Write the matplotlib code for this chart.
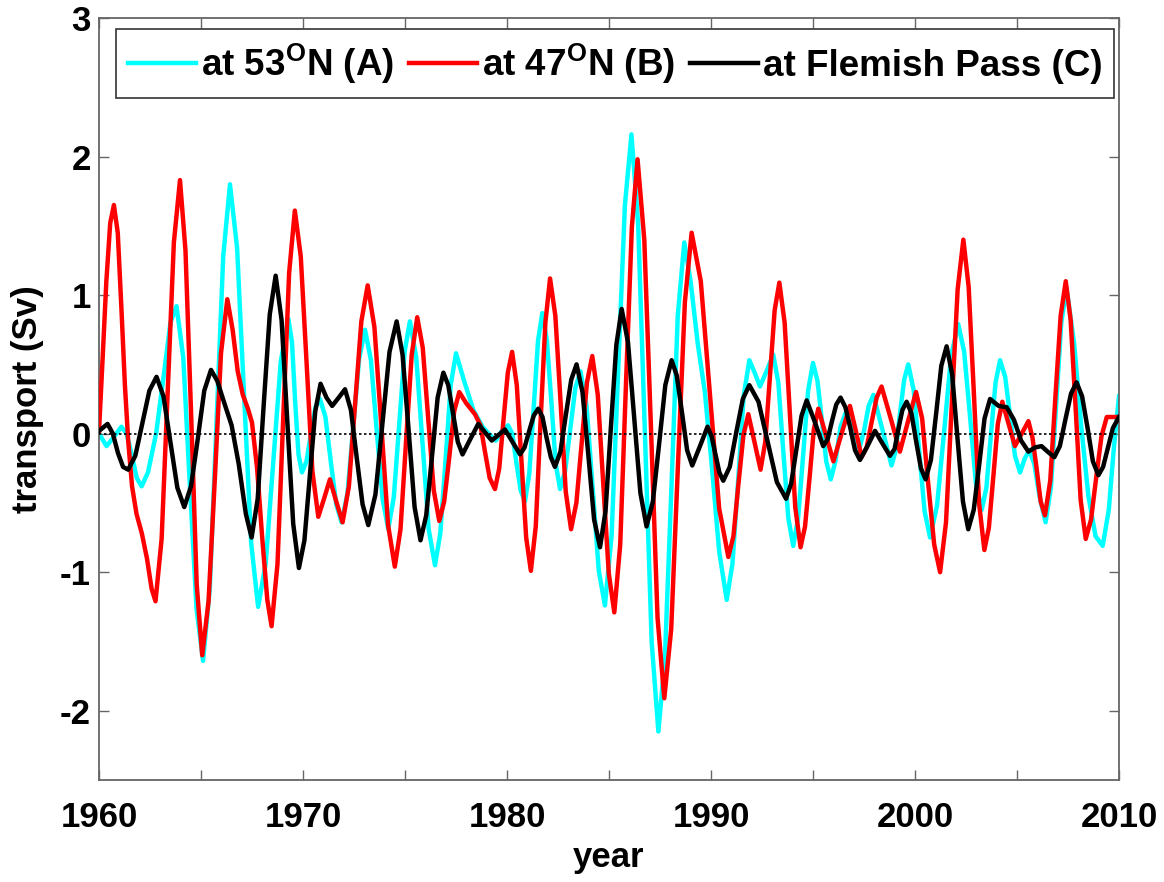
import matplotlib
matplotlib.use("Agg")
import matplotlib.pyplot as plt
from matplotlib.ticker import MultipleLocator

plt.rcParams['font.family'] = ['Liberation Sans', 'DejaVu Sans']
plt.rcParams['font.weight'] = 'bold'
plt.rcParams['mathtext.fontset'] = 'custom'
plt.rcParams['mathtext.rm'] = 'Liberation Sans:bold'
plt.rcParams['mathtext.bf'] = 'Liberation Sans:bold'
plt.rcParams['axes.unicode_minus'] = False

# ---------------- data ----------------
# Transport at 53N (A) - cyan
years_a = [1960.00, 1960.37, 1960.75, 1961.10, 1961.35, 1961.60, 1961.85, 1962.09,
           1962.40, 1962.80, 1963.20, 1963.50, 1963.80,
           1964.13, 1964.45, 1964.78, 1965.10,
           1965.43, 1965.76, 1966.09, 1966.42,
           1966.77, 1967.11, 1967.46, 1967.80,
           1968.17, 1968.54, 1968.91, 1969.28,
           1969.46, 1969.62, 1969.78, 1969.95,
           1970.17, 1970.39, 1970.61, 1970.83,
           1971.10, 1971.36, 1971.63, 1971.89,
           1972.18, 1972.47, 1972.75, 1973.04,
           1973.33, 1973.61, 1973.90, 1974.18,
           1974.45, 1974.71, 1974.98, 1975.24,
           1975.55, 1975.86, 1976.16, 1976.47,
           1976.73, 1976.99, 1977.24, 1977.50,
           1977.90, 1978.35, 1978.80, 1979.10, 1979.45, 1979.75, 1980.05,
           1980.26, 1980.47, 1980.67, 1980.88,
           1981.09, 1981.31, 1981.52, 1981.73,
           1981.95, 1982.17, 1982.38, 1982.60,
           1982.85, 1983.10, 1983.35, 1983.60,
           1983.90, 1984.20, 1984.50, 1984.80,
           1985.13, 1985.45, 1985.78, 1986.10,
           1986.43, 1986.76, 1987.09, 1987.42,
           1987.74, 1988.06, 1988.37, 1988.69,
           1989.00, 1989.35, 1989.70, 1990.05, 1990.40, 1990.77,
           1991.05, 1991.33, 1991.60, 1991.88,
           1992.14, 1992.40, 1992.72, 1993.05,
           1993.30, 1993.54, 1993.79, 1994.03,
           1994.27, 1994.52, 1994.76, 1995.00,
           1995.22, 1995.44, 1995.65, 1995.87,
           1996.10, 1996.35, 1996.60, 1996.92, 1997.25,
           1997.50, 1997.73, 1997.96,
           1998.40, 1998.85,
           1999.06, 1999.26, 1999.47, 1999.67,
           1999.94, 2000.20, 2000.47, 2000.74,
           2001.08, 2001.43, 2001.77, 2002.12,
           2002.41, 2002.70, 2002.98, 2003.27,
           2003.50, 2003.72, 2003.95, 2004.17,
           2004.42, 2004.66, 2004.90, 2005.15,
           2005.38, 2005.60, 2005.85, 2006.10, 2006.40,
           2006.66, 2006.92, 2007.17, 2007.43,
           2007.80, 2008.15, 2008.50, 2008.85, 2009.20, 2009.50, 2009.75, 2010.00]
vals_a = [0.00, -0.09, -0.02, 0.05, 0.00, -0.15, -0.32, -0.38,
          -0.28, 0.00, 0.45, 0.80, 0.92,
          0.55, -0.36, -1.26, -1.64,
          -1.12, 0.08, 1.28, 1.80,
          1.34, 0.28, -0.79, -1.25,
          -0.94, -0.21, 0.52, 0.83,
          0.66, 0.22, -0.15, -0.28,
          -0.20, 0.00, 0.19, 0.25,
          0.12, -0.20, -0.51, -0.64,
          -0.43, 0.06, 0.54, 0.75,
          0.53, 0.03, -0.47, -0.69,
          -0.46, 0.06, 0.59, 0.81,
          0.55, -0.07, -0.69, -0.95,
          -0.72, -0.19, 0.35, 0.58,
          0.38, 0.17, 0.05, 0.00, -0.05, 0.02, 0.06,
          0.00, -0.22, -0.41, -0.49,
          -0.29, 0.19, 0.67, 0.87,
          0.68, 0.24, -0.21, -0.40,
          -0.27, 0.03, 0.33, 0.45,
          0.20, -0.40, -0.99, -1.24,
          -0.73, 0.46, 1.65, 2.16,
          1.51, 0.01, -1.50, -2.15,
          -1.62, -0.39, 0.85, 1.38,
          1.10, 0.65, 0.30, -0.25, -0.85, -1.20,
          -0.94, -0.34, 0.27, 0.53,
          0.44, 0.34, 0.45, 0.57,
          0.37, -0.12, -0.61, -0.81,
          -0.61, -0.15, 0.31, 0.51,
          0.38, 0.09, -0.20, -0.33,
          -0.20, 0.05, 0.15, 0.04, -0.12,
          0.02, 0.20, 0.28,
          0.03, -0.23,
          -0.12, 0.14, 0.39, 0.50,
          0.31, -0.12, -0.56, -0.75,
          -0.52, 0.02, 0.56, 0.79,
          0.59, 0.12, -0.35, -0.55,
          -0.39, -0.01, 0.37, 0.53,
          0.41, 0.13, -0.16, -0.28,
          -0.18, -0.12, -0.22, -0.45, -0.64,
          -0.39, 0.21, 0.80, 1.05,
          0.65, 0.05, -0.45, -0.74, -0.81, -0.55, -0.10, 0.27]

# Transport at 47N (B) - red
years_b = [1960.00, 1960.18, 1960.36, 1960.55, 1960.73,
           1960.92, 1961.10, 1961.27, 1961.43, 1961.62, 1961.84, 1962.10, 1962.35, 1962.58, 1962.77,
           1963.07, 1963.37, 1963.67, 1963.97,
           1964.24, 1964.52, 1964.79, 1965.06,
           1965.37, 1965.68, 1965.98, 1966.29,
           1966.55, 1966.80, 1967.05, 1967.30, 1967.50, 1967.75, 1968.00, 1968.25, 1968.46,
           1968.75, 1969.03, 1969.32, 1969.60,
           1969.89, 1970.18, 1970.46, 1970.75,
           1971.03, 1971.32, 1971.63, 1971.94,
           1972.25, 1972.56, 1972.86, 1973.17,
           1973.50, 1973.84, 1974.17, 1974.50,
           1974.78, 1975.05, 1975.33, 1975.60,
           1975.87, 1976.14, 1976.41, 1976.68,
           1976.92, 1977.17, 1977.41, 1977.66,
           1978.00, 1978.43,
           1978.70, 1978.92, 1979.15, 1979.41,
           1979.62, 1979.83, 1980.04, 1980.25,
           1980.48, 1980.71, 1980.94, 1981.17,
           1981.41, 1981.64, 1981.88, 1982.11,
           1982.37, 1982.63, 1982.88, 1983.14,
           1983.40, 1983.66, 1983.92, 1984.18,
           1984.45, 1984.72, 1984.99, 1985.26,
           1985.55, 1985.83, 1986.12, 1986.40,
           1986.73, 1987.06, 1987.38, 1987.71,
           1988.05, 1988.38, 1988.72, 1989.05,
           1989.50, 1989.95, 1990.40, 1990.85,
           1991.10, 1991.34, 1991.59, 1991.83,
           1992.13, 1992.43,
           1992.66, 1992.89, 1993.12, 1993.35,
           1993.61, 1993.87, 1994.13, 1994.39,
           1994.61, 1994.83, 1995.04, 1995.26,
           1995.63, 1996.00,
           1996.40, 1996.81,
           1997.10, 1997.38,
           1997.63, 1997.87, 1998.12, 1998.36,
           1998.81, 1999.26,
           1999.66, 2000.05,
           2000.35, 2000.64, 2000.94, 2001.23,
           2001.52, 2001.80, 2002.09, 2002.37,
           2002.63, 2002.89, 2003.14, 2003.40,
           2003.62, 2003.84, 2004.06, 2004.28,
           2004.59, 2004.90,
           2005.23, 2005.56,
           2005.76, 2005.96, 2006.16, 2006.37,
           2006.63, 2006.88, 2007.14, 2007.39,
           2007.63, 2007.88, 2008.12, 2008.37,
           2008.63, 2008.88, 2009.14, 2009.40, 2010.00]
vals_b = [0.02, 0.55, 1.10, 1.52, 1.65,
          1.45, 0.90, 0.35, -0.05, -0.38, -0.58, -0.72, -0.90, -1.12, -1.21,
          -0.76, 0.31, 1.38, 1.83,
          1.32, 0.12, -1.09, -1.60,
          -1.21, -0.32, 0.58, 0.97,
          0.75, 0.45, 0.28, 0.18, 0.08, -0.25, -0.75, -1.20, -1.39,
          -0.94, 0.11, 1.16, 1.61,
          1.28, 0.50, -0.27, -0.60,
          -0.47, -0.33, -0.49, -0.64,
          -0.38, 0.22, 0.81, 1.07,
          0.77, 0.06, -0.66, -0.96,
          -0.69, -0.06, 0.57, 0.84,
          0.62, 0.11, -0.41, -0.63,
          -0.49, -0.17, 0.16, 0.30,
          0.22, 0.14,
          0.06, -0.13, -0.32, -0.40,
          -0.25, 0.10, 0.44, 0.59,
          0.35, -0.20, -0.75, -0.99,
          -0.67, 0.07, 0.80, 1.12,
          0.85, 0.22, -0.42, -0.69,
          -0.50, -0.07, 0.37, 0.56,
          0.28, -0.37, -1.01, -1.29,
          -0.80, 0.35, 1.49, 1.98,
          1.40, 0.03, -1.33, -1.91,
          -1.41, -0.23, 0.95, 1.45,
          1.10, 0.28, -0.54, -0.89,
          -0.74, -0.37, -0.01, 0.14,
          -0.06, -0.26,
          -0.06, 0.42, 0.89, 1.09,
          0.80, 0.14, -0.53, -0.82,
          -0.67, -0.32, 0.03, 0.18,
          -0.01, -0.20,
          0.00, 0.20,
          0.02, -0.17,
          -0.10, 0.08, 0.26, 0.34,
          0.11, -0.13,
          0.09, 0.30,
          0.11, -0.35, -0.80, -1.00,
          -0.64, 0.20, 1.04, 1.40,
          1.06, 0.28, -0.50, -0.84,
          -0.68, -0.31, 0.07, 0.23,
          0.07, -0.09,
          0.00, 0.09,
          -0.03, -0.25, -0.49, -0.59,
          -0.34, 0.26, 0.85, 1.10,
          0.82, 0.17, -0.48, -0.76,
          -0.62, -0.32, -0.02, 0.12, 0.12]

# Transport at Flemish Pass (C) - black
years_c = [1960.00, 1960.42, 1960.68, 1960.93, 1961.18, 1961.43,
           1961.78, 1962.13, 1962.47, 1962.82,
           1963.16, 1963.50, 1963.84, 1964.18,
           1964.51, 1964.84, 1965.16, 1965.49,
           1965.80, 1966.10, 1966.50, 1966.85, 1967.20, 1967.48,
           1967.78, 1968.07, 1968.37, 1968.66,
           1968.95, 1969.23, 1969.52, 1969.80,
           1970.07, 1970.33, 1970.60, 1970.86,
           1971.15, 1971.43, 1971.75, 1972.06,
           1972.35, 1972.63, 1972.92, 1973.20,
           1973.55, 1973.90, 1974.24, 1974.59,
           1974.88, 1975.18, 1975.47, 1975.76,
           1976.04, 1976.32, 1976.60, 1976.88,
           1977.12, 1977.35, 1977.59, 1977.82,
           1978.20, 1978.59, 1978.92, 1979.25, 1979.58, 1979.90,
           1980.27, 1980.64,
           1980.86, 1981.09, 1981.31, 1981.53,
           1981.74, 1981.94, 1982.15, 1982.35,
           1982.62, 1982.88, 1983.15, 1983.41,
           1983.70, 1983.99, 1984.27, 1984.56,
           1984.83, 1985.09, 1985.36, 1985.62,
           1985.93, 1986.23, 1986.54, 1986.84,
           1987.15, 1987.46, 1987.76, 1988.07,
           1988.32, 1988.58, 1988.83, 1989.08,
           1989.46, 1989.83,
           1990.03, 1990.22, 1990.41, 1990.60,
           1990.92, 1991.24, 1991.56, 1991.88,
           1992.33, 1992.78, 1993.23, 1993.68,
           1993.93, 1994.18, 1994.44, 1994.69,
           1995.10, 1995.50,
           1995.72, 1995.93, 1996.14, 1996.35,
           1996.59, 1996.83, 1997.06, 1997.30,
           1997.67, 1998.04, 1998.40, 1998.77,
           1999.00, 1999.18, 1999.38, 1999.59,
           1999.82, 2000.05, 2000.29, 2000.52,
           2000.78, 2001.04, 2001.29, 2001.55,
           2001.82, 2002.08, 2002.35, 2002.61,
           2002.88, 2003.15, 2003.41, 2003.68,
           2004.10, 2004.50, 2004.85, 2005.20, 2005.56,
           2005.88, 2006.20, 2006.50, 2006.83,
           2007.10, 2007.37, 2007.65, 2007.92,
           2008.19, 2008.46, 2008.72, 2008.99,
           2009.22, 2009.46, 2009.70, 2010.00]
vals_c = [0.02, 0.07, 0.00, -0.14, -0.24, -0.26,
          -0.16, 0.08, 0.31, 0.41,
          0.27, -0.06, -0.39, -0.53,
          -0.38, -0.04, 0.31, 0.46,
          0.38, 0.24, 0.06, -0.22, -0.58, -0.75,
          -0.47, 0.20, 0.86, 1.14,
          0.82, 0.09, -0.65, -0.97,
          -0.77, -0.31, 0.16, 0.36,
          0.26, 0.20, 0.26, 0.32,
          0.17, -0.17, -0.51, -0.66,
          -0.44, 0.08, 0.59, 0.81,
          0.57, 0.02, -0.53, -0.77,
          -0.59, -0.17, 0.26, 0.44,
          0.35, 0.15, -0.06, -0.15,
          -0.04, 0.07, 0.01, -0.05, -0.01, 0.03,
          -0.06, -0.15,
          -0.10, 0.02, 0.13, 0.18,
          0.12, -0.03, -0.17, -0.24,
          -0.13, 0.13, 0.39, 0.50,
          0.30, -0.16, -0.62, -0.82,
          -0.56, 0.04, 0.64, 0.90,
          0.66, 0.12, -0.43, -0.67,
          -0.49, -0.07, 0.35, 0.53,
          0.42, 0.15, -0.12, -0.23,
          -0.09, 0.05,
          -0.02, -0.15, -0.28, -0.34,
          -0.24, 0.01, 0.25, 0.35,
          0.23, -0.06, -0.35, -0.47,
          -0.36, -0.12, 0.13, 0.24,
          0.08, -0.09,
          -0.04, 0.09, 0.21, 0.26,
          0.19, 0.04, -0.12, -0.19,
          -0.09, 0.02, -0.07, -0.16,
          -0.11, 0.03, 0.17, 0.23,
          0.15, -0.05, -0.25, -0.33,
          -0.19, 0.15, 0.49, 0.63,
          0.43, -0.03, -0.49, -0.69,
          -0.55, -0.22, 0.11, 0.25,
          0.20, 0.19, 0.10, -0.05, -0.13,
          -0.10, -0.09, -0.13, -0.17,
          -0.09, 0.10, 0.29, 0.37,
          0.27, 0.04, -0.20, -0.30,
          -0.24, -0.10, 0.04, 0.12]

labels = [r'at 53$^{\mathbf{O}}$N (A)', r'at 47$^{\mathbf{O}}$N (B)', 'at Flemish Pass (C)']
colors = ['#00ffff', '#ff0000', '#000000']
x_ticks = [1960, 1970, 1980, 1990, 2000, 2010]
y_ticks = [-2, -1, 0, 1, 2, 3]

# ---------------- figure ----------------
W, H = 1164, 882
fig = plt.figure(figsize=(W / 100, H / 100), dpi=100)
ax = fig.add_axes([99 / W, 1 - 780 / H, 1020 / W, 762 / H])

lw = 3.2
la, = ax.plot(years_a, vals_a, color=colors[0], lw=lw, label=labels[0], zorder=2,
              solid_joinstyle='round')
lb, = ax.plot(years_b, vals_b, color=colors[1], lw=lw, label=labels[1], zorder=3,
              solid_joinstyle='round')
lc, = ax.plot(years_c, vals_c, color=colors[2], lw=lw, label=labels[2], zorder=4,
              solid_joinstyle='round')
ax.axhline(0, color='black', lw=1.2, ls=(0, (1.5, 1.5)), zorder=5)

ax.set_xlim(1960, 2010)
ax.set_ylim(-2.5, 3)
ax.set_xticks(x_ticks)
ax.xaxis.set_minor_locator(MultipleLocator(5))
ax.set_yticks(y_ticks)
ax.set_yticklabels([str(v) for v in y_ticks])

spine_col = '#666666'
for s in ax.spines.values():
    s.set_color(spine_col)
    s.set_linewidth(1.3)
ax.tick_params(axis='both', which='both', direction='in', top=True, right=True,
               length=7, width=1.0, color=spine_col, labelsize=25)
ax.tick_params(axis='x', which='major', pad=15)
ax.tick_params(axis='y', which='major', pad=6)
for t in ax.get_xticklabels() + ax.get_yticklabels():
    t.set_fontweight('bold')

ax.set_xlabel('year', fontsize=25, fontweight='bold', labelpad=5)
ax.set_ylabel('transport (Sv)', fontsize=25, fontweight='bold', labelpad=11)

leg = ax.legend(handles=[la, lb, lc], loc='upper center', bbox_to_anchor=(0.506, 0.986),
                ncol=3, fontsize=26.5, frameon=True, fancybox=False, framealpha=1,
                edgecolor='#333333', handlelength=1.85, handletextpad=0.12,
                columnspacing=0.42, borderpad=0.33, borderaxespad=0)
leg.get_frame().set_linewidth(1.2)
for t in leg.get_texts():
    t.set_fontweight('bold')

fig.savefig('out.png', dpi=100)
